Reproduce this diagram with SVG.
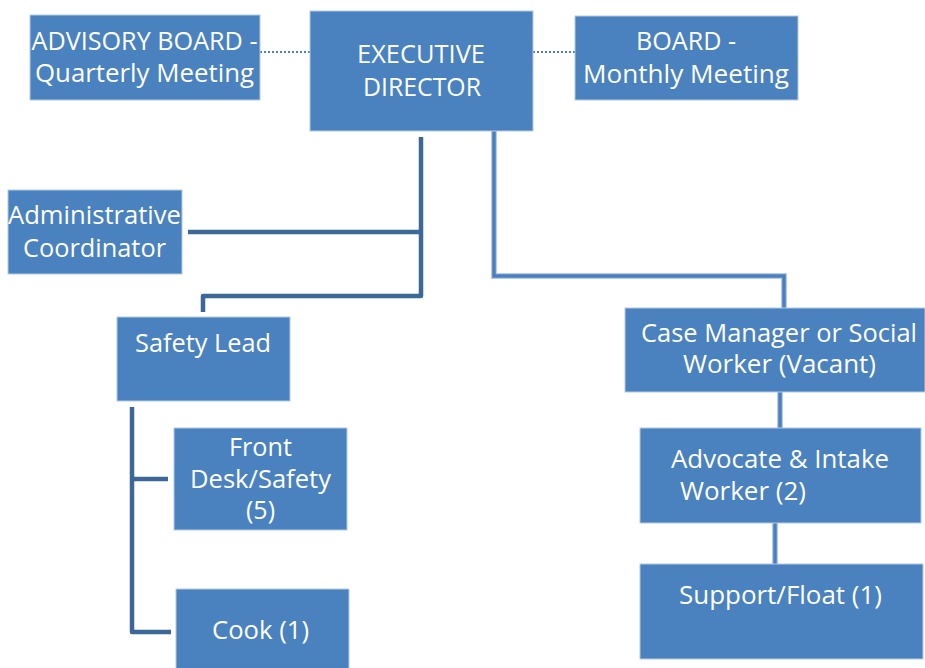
<svg xmlns="http://www.w3.org/2000/svg" width="925" height="668" viewBox="0 0 925 668">
  <style>
    .box { fill: #4a81bf; stroke: #b4c9e4; stroke-width: 1; }
    .lbl { font-family: "Open Sans", "Liberation Sans", sans-serif; font-size: 25px; fill: #ffffff; text-anchor: middle; }
    .dark { fill: none; stroke: #3b6799; stroke-width: 4.5; stroke-linejoin: round; }
    .halo { fill: none; stroke: #b7cbe6; stroke-width: 6; }
    .light { fill: none; stroke: #4a7fbf; stroke-width: 3.5; }
    .dot { fill: none; stroke: #4a7fbf; stroke-width: 2; stroke-dasharray: 2 2; }
  </style>
  <rect width="925" height="668" fill="#ffffff"/>

  <!-- connectors -->
  <g id="connectors">
    <line class="dot" x1="260" y1="52" x2="310" y2="52"/>
    <line class="dot" x1="533" y1="52" x2="575" y2="52"/>
    <path class="dark" d="M421,137 V296 H203 V312"/>
    <path class="dark" d="M188,232 H421"/>
    <path class="dark" d="M132,407 V632 H171"/>
    <path class="dark" d="M132,479 H168"/>
    <path class="halo" d="M494,131 V276 H784 V308"/>
    <path class="light" d="M494,131 V276 H784 V308"/>
    <path class="halo" d="M780,392 V430"/>
    <path class="light" d="M780,392 V430"/>
    <path class="halo" d="M775,521 V566"/>
    <path class="light" d="M775,521 V566"/>
  </g>

  <g id="advisory-board">
    <rect class="box" x="30" y="15" width="230" height="85"/>
    <text class="lbl" x="144.5" y="50" textLength="226" lengthAdjust="spacingAndGlyphs">ADVISORY BOARD -</text>
    <text class="lbl" x="144.5" y="82" textLength="219" lengthAdjust="spacingAndGlyphs">Quarterly Meeting</text>
  </g>

  <g id="executive-director">
    <rect class="box" x="310" y="11" width="223" height="120"/>
    <text class="lbl" x="421" y="63" textLength="128" lengthAdjust="spacingAndGlyphs">EXECUTIVE</text>
    <text class="lbl" x="422" y="96" textLength="118" lengthAdjust="spacingAndGlyphs">DIRECTOR</text>
  </g>

  <g id="board">
    <rect class="box" x="575" y="16" width="223" height="84"/>
    <text class="lbl" x="686" y="50" textLength="100" lengthAdjust="spacingAndGlyphs">BOARD -</text>
    <text class="lbl" x="686" y="83" textLength="206" lengthAdjust="spacingAndGlyphs">Monthly Meeting</text>
  </g>

  <g id="administrative-coordinator">
    <rect class="box" x="8" y="190" width="174" height="84"/>
    <text class="lbl" x="94.5" y="224" textLength="173" lengthAdjust="spacingAndGlyphs">Administrative</text>
    <text class="lbl" x="94.5" y="257" textLength="143" lengthAdjust="spacingAndGlyphs">Coordinator</text>
  </g>

  <g id="safety-lead">
    <rect class="box" x="117" y="317" width="173" height="84"/>
    <text class="lbl" x="203" y="352" textLength="136" lengthAdjust="spacingAndGlyphs">Safety Lead</text>
  </g>

  <g id="front-desk">
    <rect class="box" x="174" y="428" width="173" height="102"/>
    <text class="lbl" x="260.5" y="456" textLength="63" lengthAdjust="spacingAndGlyphs">Front</text>
    <text class="lbl" x="260.5" y="488" textLength="141" lengthAdjust="spacingAndGlyphs">Desk/Safety</text>
    <text class="lbl" x="260.5" y="519">(5)</text>
  </g>

  <g id="cook">
    <rect class="box" x="176" y="589" width="173" height="85"/>
    <text class="lbl" x="260.5" y="639" textLength="97" lengthAdjust="spacingAndGlyphs">Cook (1)</text>
  </g>

  <g id="case-manager">
    <rect class="box" x="625" y="308" width="300" height="84"/>
    <text class="lbl" x="779" y="342" textLength="276" lengthAdjust="spacingAndGlyphs">Case Manager or Social</text>
    <text class="lbl" x="779.5" y="373" textLength="193" lengthAdjust="spacingAndGlyphs">Worker (Vacant)</text>
  </g>

  <g id="advocate-intake">
    <rect class="box" x="640" y="428" width="281" height="95"/>
    <text class="lbl" x="780" y="468" textLength="218" lengthAdjust="spacingAndGlyphs">Advocate &amp; Intake</text>
    <text class="lbl" x="743" y="500" textLength="126" lengthAdjust="spacingAndGlyphs">Worker (2)</text>
  </g>

  <g id="support-float">
    <rect class="box" x="640" y="564" width="283" height="95"/>
    <text class="lbl" x="780.5" y="604" textLength="203" lengthAdjust="spacingAndGlyphs">Support/Float (1)</text>
  </g>
</svg>
